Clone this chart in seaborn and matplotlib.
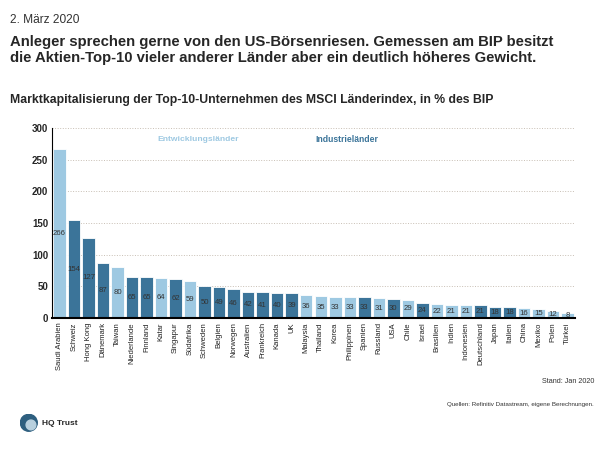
import numpy as np
import pandas as pd
import matplotlib.pyplot as plt
import seaborn as sns
from matplotlib.patches import Circle

countries = ['Saudi Arabien', 'Schweiz', 'Hong Kong', 'Dänemark', 'Taiwan', 'Niederlande',
             'Finnland', 'Katar', 'Singapur', 'Südafrika', 'Schweden', 'Belgien', 'Norwegen',
             'Australien', 'Frankreich', 'Kanada', 'UK', 'Malaysia', 'Thailand', 'Korea',
             'Philippinen', 'Spanien', 'Russland', 'USA', 'Chile', 'Israel', 'Brasilien',
             'Indien', 'Indonesien', 'Deutschland', 'Japan', 'Italien', 'China', 'Mexiko',
             'Polen', 'Türkei']
values = [266, 154, 127, 87, 80, 65, 65, 64, 62, 59, 50, 49, 46, 42, 41, 40, 39, 36, 35,
          33, 33, 33, 31, 30, 29, 24, 22, 21, 21, 21, 18, 18, 16, 15, 12, 8]
# E = Entwicklungsland, I = Industrieland
groups = ['E', 'I', 'I', 'I', 'E', 'I', 'I', 'E', 'I', 'E', 'I', 'I', 'I', 'I', 'I', 'I', 'I',
          'E', 'E', 'E', 'E', 'I', 'E', 'I', 'E', 'I', 'E', 'E', 'E', 'I', 'I', 'I', 'E', 'E',
          'E', 'E']

light = '#9ec9e2'
dark = '#3b7499'

df = pd.DataFrame({'Land': countries, 'Wert': values, 'Gruppe': groups})

sns.set_style('white')
plt.rcParams['font.family'] = ['Liberation Sans', 'DejaVu Sans']

fig = plt.figure(figsize=(6, 4.5), dpi=100)
ax = fig.add_axes([0.087, 0.293, 0.871, 0.423])

sns.barplot(data=df, x='Land', y='Wert', hue='Gruppe', palette={'E': light, 'I': dark},
            saturation=1, dodge=False, width=0.86, edgecolor='white', linewidth=0.6,
            legend=False, ax=ax)

for cont in ax.containers:
    for bar in cont:
        h = bar.get_height()
        if np.isnan(h) or h == 0:
            continue
        ax.text(bar.get_x() + bar.get_width() / 2, h / 2, f'{int(h)}', ha='center', va='center',
                fontsize=5.6, color='#333333')

ax.set_ylim(0, 300)
ax.set_xlim(-0.5, len(countries) - 0.5)
ax.set_yticks(range(0, 301, 50))
ax.set_yticklabels([str(v) for v in range(0, 301, 50)], fontsize=7, fontweight='bold')
ax.set_xticks(range(len(countries)))
ax.set_xticklabels(countries, rotation=90, fontsize=5.5, color='#222222')
ax.tick_params(axis='both', length=0, pad=3)
ax.set_xlabel('')
ax.set_ylabel('')
ax.yaxis.grid(True, linestyle=':', color='#c8bfb4', linewidth=0.7)
ax.set_axisbelow(True)
for s in ['top', 'right']:
    ax.spines[s].set_visible(False)
ax.spines['left'].set_color('black')
ax.spines['left'].set_linewidth(0.8)
ax.spines['bottom'].set_color('black')
ax.spines['bottom'].set_linewidth(1.5)

ax.text(0.279, 0.94, 'Entwicklungsländer', transform=ax.transAxes, color=light, fontsize=6.1,
        fontweight='bold', ha='center', va='center')
ax.text(0.564, 0.94, 'Industrieländer', transform=ax.transAxes, color=dark, fontsize=6.2,
        fontweight='bold', ha='center', va='center')

fig.text(0.017, 0.948, '2. März 2020', fontsize=8.6, color='#333333')
fig.text(0.017, 0.862, 'Anleger sprechen gerne von den US-Börsenriesen. Gemessen am BIP besitzt\n'
         'die Aktien-Top-10 vieler anderer Länder aber ein deutlich höheres Gewicht.',
         fontsize=10.7, fontweight='bold', linespacing=1.22)
fig.text(0.017, 0.77, 'Marktkapitalisierung der Top-10-Unternehmen des MSCI Länderindex, in % des BIP',
         fontsize=8.8, fontweight='bold')
fig.text(0.99, 0.148, 'Stand: Jan 2020', fontsize=5.2, ha='right', color='#333333')
fig.text(0.99, 0.098, 'Quellen: Refinitiv Datastream, eigene Berechnungen.', fontsize=4.5,
         ha='right', color='#333333')

logo = fig.add_axes([0.033, 0.038, 0.03, 0.045])
logo.axis('off')
logo.add_patch(Circle((0.5, 0.5), 0.47, color='#2e5f7f'))
logo.add_patch(Circle((0.62, 0.38), 0.27, color='#b8d0de'))
logo.set_xlim(0, 1)
logo.set_ylim(0, 1)
logo.set_aspect('equal')
fig.text(0.07, 0.058, 'HQ Trust', fontsize=6, fontweight='bold', va='center')

fig.savefig('out.png', dpi=100)
